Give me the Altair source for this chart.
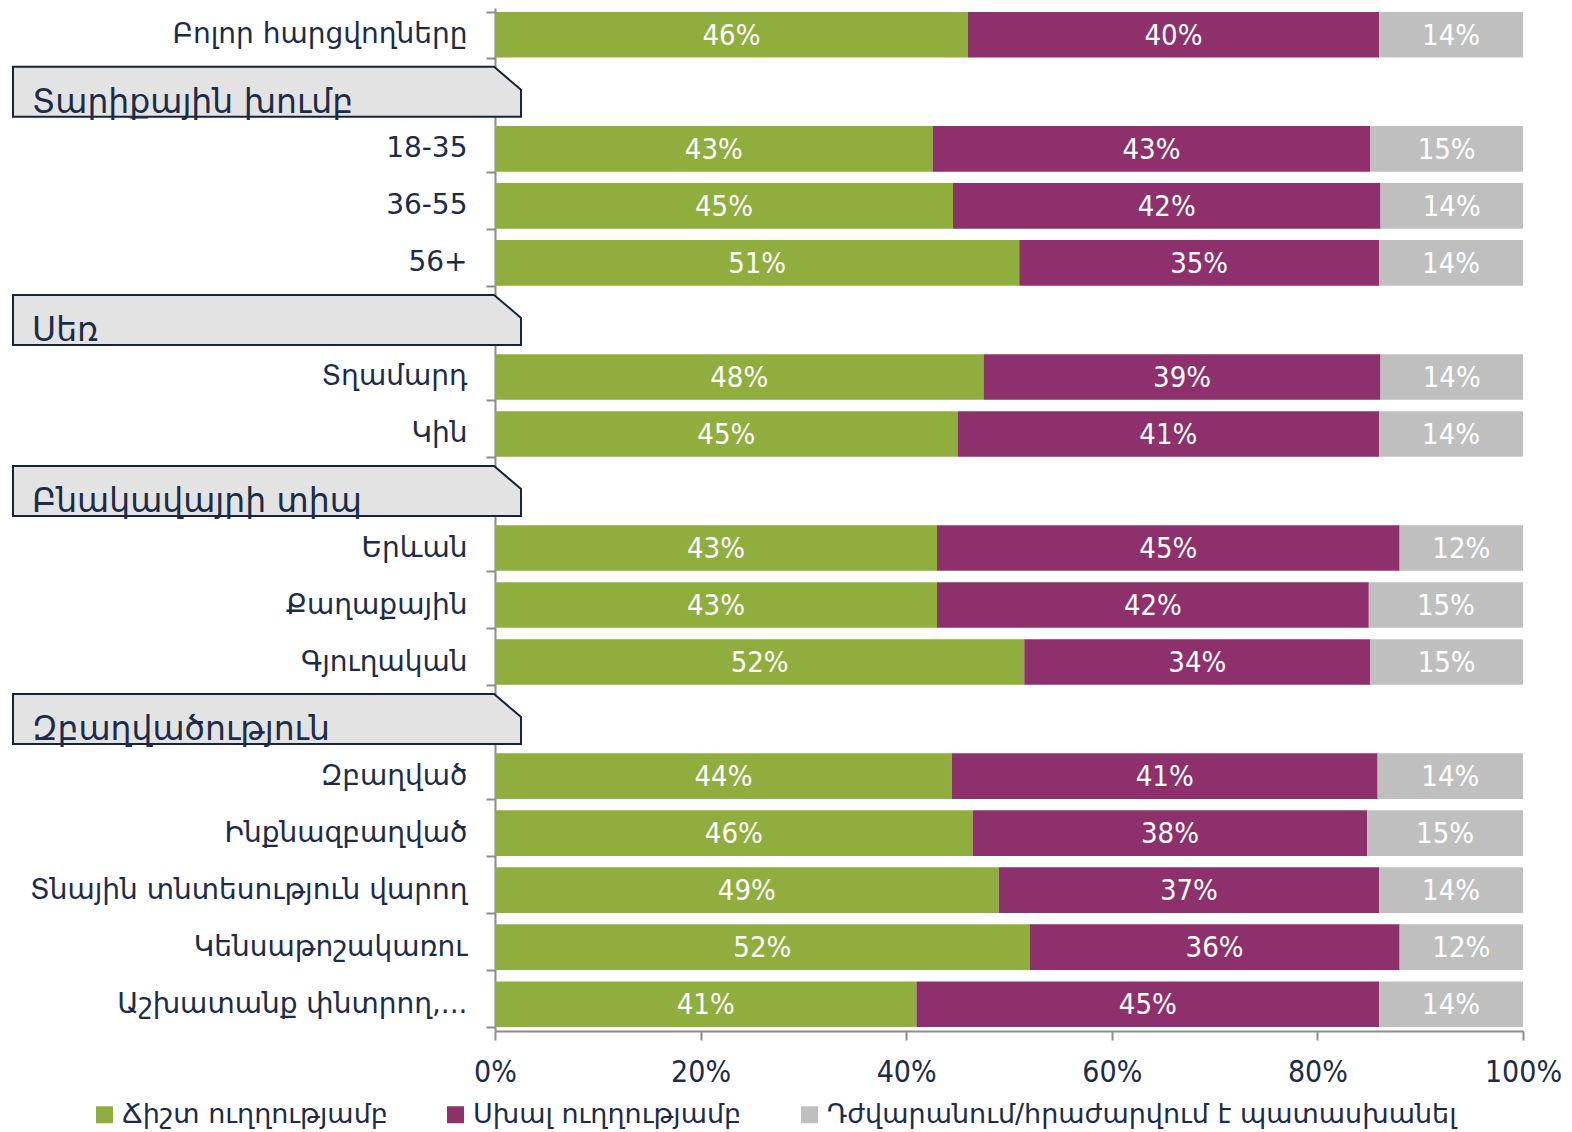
import json
import altair as alt
import pandas as pd

row_order = [
    "Բոլոր հարցվողները",
    "Տարիքային խումբ",
    "18-35",
    "36-55",
    "56+",
    "Սեռ",
    "Տղամարդ",
    "Կին",
    "Բնակավայրի տիպ",
    "Երևան",
    "Քաղաքային",
    "Գյուղական",
    "Զբաղվածություն",
    "Զբաղված",
    "Ինքնազբաղված",
    "Տնային տնտեսություն վարող",
    "Կենսաթոշակառու",
    "Աշխատանք փնտրող,...",
]
headers = ["Տարիքային խումբ", "Սեռ", "Բնակավայրի տիպ", "Զբաղվածություն"]
groups = [r for r in row_order if r not in headers]

series = [
    "Ճիշտ ուղղությամբ",
    "Սխալ ուղղությամբ",
    "Դժվարանում/հրաժարվում է պատասխանել",
]
right_dir = [46, 43, 45, 51, 48, 45, 43, 43, 52, 44, 46, 49, 52, 41]
wrong_dir = [40, 43, 42, 35, 39, 41, 45, 42, 34, 41, 38, 37, 36, 45]
dont_know = [14, 15, 14, 14, 14, 14, 12, 15, 15, 14, 15, 14, 12, 14]
colors = ["#8fae3e", "#8e306b", "#bfbfbf"]

records = []
for i, g in enumerate(groups):
    for k, vals in enumerate([right_dir, wrong_dir, dont_know]):
        records.append({"row": g, "series": series[k], "order": k, "value": vals[i]})
df = pd.DataFrame(records)
hdf = pd.DataFrame({"row": headers})

NAVY = "#1c2b4a"
GRAY = "#8c8c8c"
ARM = "DejaVu Sans"
NUM = "Liberation Sans Narrow, DejaVu Sans Condensed, Roboto Condensed, Roboto, sans-serif"

label_expr = (
    "indexof(" + json.dumps(headers, ensure_ascii=False) + ", datum.value) >= 0 ? '' : datum.value"
)

y_enc = alt.Y(
    "row:N",
    sort=row_order,
    scale=alt.Scale(domain=row_order, paddingInner=0.2, paddingOuter=0.07),
    axis=alt.Axis(
        title=None,
        labelFont=ARM,
        labelFontSize=28,
        labelColor=NAVY,
        labelPadding=19,
        labelLimit=600,
        tickBand="extent",
        tickSize=9,
        tickColor=GRAY,
        tickWidth=2,
        domainColor=GRAY,
        domainWidth=2,
        labelExpr=label_expr,
    ),
)

x_scale = alt.Scale(domain=[0, 1])

bars = alt.Chart(df).mark_bar().encode(
    x=alt.X(
        "value:Q",
        stack="normalize",
        scale=x_scale,
        axis=alt.Axis(
            title=None,
            format=".0%",
            values=[0, 0.2, 0.4, 0.6, 0.8, 1.0],
            grid=False,
            labelFlush=False,
            labelFont=NUM,
            labelFontSize=30,
            labelColor=NAVY,
            labelPadding=17,
            tickSize=9,
            tickColor=GRAY,
            tickWidth=2,
            domainColor=GRAY,
            domainWidth=2,
        ),
    ),
    y=y_enc,
    color=alt.Color(
        "series:N",
        scale=alt.Scale(domain=series, range=colors),
        legend=alt.Legend(
            title=None,
            orient="none",
            direction="horizontal",
            legendX=-404,
            legendY=1093,
            symbolType="square",
            symbolSize=289,
            symbolStrokeWidth=0,
            labelFont=ARM,
            labelFontSize=27,
            labelColor=NAVY,
            labelOffset=4,
            columnPadding=54,
            labelLimit=800,
        ),
    ),
    order=alt.Order("order:Q"),
)

labels = (
    alt.Chart(df)
    .transform_joinaggregate(total="sum(value)", groupby=["row"])
    .transform_window(cum="sum(value)", sort=[alt.SortField("order")], groupby=["row"])
    .transform_calculate(
        mid="(datum.cum - datum.value / 2) / datum.total",
        label="datum.value + '%'",
    )
    .mark_text(color="white", font=NUM, fontSize=29, align="center", baseline="middle", dy=1)
    .encode(x=alt.X("mid:Q", scale=x_scale), y=y_enc, text="label:N")
)

box_path = "M -1 -0.0984 L 0.894 -0.0984 L 1 -0.008 L 1 0.0984 L -1 0.0984 Z"
boxes = (
    alt.Chart(hdf)
    .mark_point(
        shape=box_path,
        size=508 * 508,
        filled=True,
        fill="#e3e3e3",
        stroke="#15233d",
        strokeWidth=2,
        opacity=1,
    )
    .encode(x=alt.value(-228), y=y_enc)
)

htext = (
    alt.Chart(hdf)
    .mark_text(font=ARM, fontSize=33, color=NAVY, align="left", baseline="alphabetic", dy=21)
    .encode(x=alt.value(-463), y=y_enc, text="row:N")
)

chart = (
    alt.layer(bars, labels, boxes, htext)
    .properties(
        width=1028,
        height=1023,
        padding={"left": 487, "top": 0, "right": 40, "bottom": 100},
        autosize=alt.AutoSizeParams(type="none"),
    )
    .configure_view(stroke=None)
)

chart.save("out.html", embed_options={"renderer": "svg", "actions": False})
